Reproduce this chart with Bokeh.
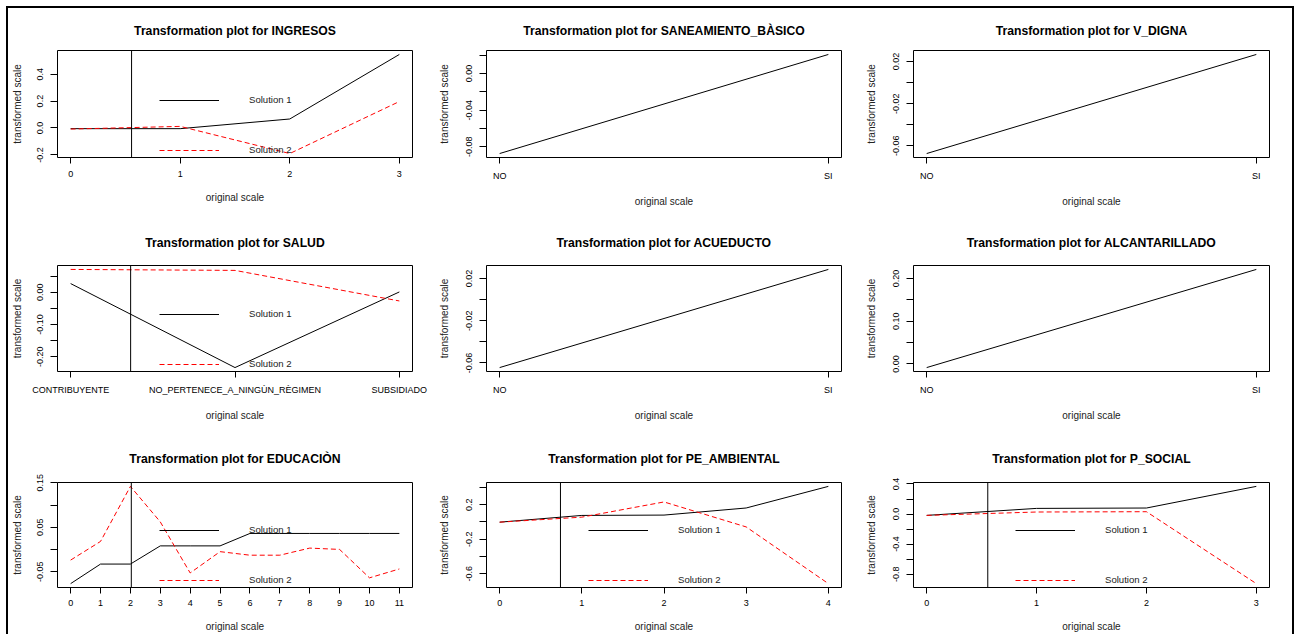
from bokeh.plotting import figure
from bokeh.models import FixedTicker, Span, Legend, LegendItem, Range1d, PrintfTickFormatter
from bokeh.layouts import column, row
from bokeh.embed import file_html
from bokeh.resources import INLINE

FONT = "Liberation Sans"

# ---------------- data ----------------
ingresos_x = [0, 1, 2, 3]
ingresos_s1 = [-0.005, -0.005, 0.067, 0.547]
ingresos_s2 = [-0.008, 0.012, -0.190, 0.197]

saneamiento_cats = ["NO", "SI"]
saneamiento_s1 = [-0.0873, 0.0208]

vdigna_cats = ["NO", "SI"]
vdigna_s1 = [-0.0675, 0.0268]

salud_cats = ["CONTRIBUYENTE", "NO_PERTENECE_A_NINGÙN_RÈGIMEN", "SUBSIDIADO"]
salud_s1 = [0.027, -0.234, 0.001]
salud_s2 = [0.071, 0.068, -0.027]

acueducto_cats = ["NO", "SI"]
acueducto_s1 = [-0.0644, 0.0285]

alcantarillado_cats = ["NO", "SI"]
alcantarillado_s1 = [-0.0084, 0.221]

educacion_x = [0, 1, 2, 3, 4, 5, 6, 7, 8, 9, 10, 11]
educacion_s1 = [-0.077, -0.033, -0.033, 0.008, 0.008, 0.008, 0.036, 0.036, 0.036, 0.036, 0.036, 0.036]
educacion_s2 = [-0.024, 0.018, 0.142, 0.062, -0.053, -0.005, -0.013, -0.013, 0.003, 0.000, -0.064, -0.044]

ambiental_x = [0, 1, 2, 3, 4]
ambiental_s1 = [-0.003, 0.075, 0.079, 0.161, 0.411]
ambiental_s2 = [-0.003, 0.055, 0.231, -0.058, -0.714]

social_x = [0, 1, 2, 3]
social_s1 = [-0.018, 0.075, 0.080, 0.368]
social_s2 = [-0.018, 0.027, 0.031, -0.926]

# vertical reference lines (original-scale units)
ingresos_vline = 0.556
salud_vline = 0.365
educacion_vline = 2.03
ambiental_vline = 0.74
social_vline = 0.556

# y ticks: labelled ticks, unlabelled ticks, label format
ingresos_yt = ([-0.2, 0.0, 0.2, 0.4], [], "%.1f")
saneamiento_yt = ([-0.08, -0.04, 0.0], [-0.06, -0.02, 0.02], "%.2f")
vdigna_yt = ([-0.06, -0.02, 0.02], [-0.04, 0.0], "%.2f")
salud_yt = ([-0.2, -0.1, 0.0], [-0.15, -0.05, 0.05], "%.2f")
acueducto_yt = ([-0.06, -0.02, 0.02], [-0.04, 0.0], "%.2f")
alcantarillado_yt = ([0.0, 0.1, 0.2], [0.05, 0.15], "%.2f")
educacion_yt = ([-0.05, 0.05, 0.15], [0.0, 0.10], "%.2f")
ambiental_yt = ([-0.6, -0.2, 0.2], [-0.4, 0.0, 0.4], "%.1f")
social_yt = ([-0.8, -0.4, 0.0, 0.4], [-0.6, -0.2, 0.2], "%.1f")

# ---------------- layout geometry ----------------
COLS = [(49, 355, 18), (56, 355, 19), (53, 356, 23)]
ROWS = [(42, 107, 61), (47, 106, 62), (49, 105, 47)]
TITLE_STANDOFF = [26, 31, 33]
YLABEL_STANDOFF = [12, 14, 14]


def make_panel(name, x, cats, s1, s2, yt, vline, col, rowi):
    bl, fw, br = COLS[col]
    bt, fh, bb = ROWS[rowi]
    allv = list(s1) + (list(s2) if s2 is not None else [])
    ymin, ymax = min(allv), max(allv)
    ypad = 0.04 * (ymax - ymin)
    xmin, xmax = min(x), max(x)
    xpad = 0.04 * (xmax - xmin)
    p = figure(frame_width=fw, frame_height=fh,
               min_border_left=bl, min_border_right=br,
               min_border_top=bt, min_border_bottom=bb,
               x_range=Range1d(xmin - xpad, xmax + xpad),
               y_range=Range1d(ymin - ypad, ymax + ypad),
               output_backend="svg", toolbar_location=None,
               title="Transformation plot for " + name,
               x_axis_label="original scale", y_axis_label="transformed scale")
    p.title.align = "center"
    p.title.text_font = FONT
    p.title.text_font_size = "12.2px"
    p.title.text_font_style = "bold"
    p.title.text_color = "black"
    p.title.standoff = TITLE_STANDOFF[rowi]
    p.xgrid.visible = False
    p.ygrid.visible = False
    p.outline_line_color = "black"
    p.outline_line_width = 1
    p.outline_line_alpha = 1
    p.background_fill_color = "white"
    p.border_fill_color = "white"

    # x axis
    xa = p.xaxis[0]
    xa.ticker = FixedTicker(ticks=list(x))
    if cats is not None:
        xa.major_label_overrides = {i: c for i, c in zip(x, cats)}
    xa.axis_line_color = None
    xa.major_tick_out = 6
    xa.major_tick_in = 0
    xa.major_tick_line_color = "black"
    xa.major_label_standoff = 7 if rowi < 2 else 6
    xa.axis_label_standoff = 12
    # y axis
    ya = p.yaxis[0]
    lab, minor, fmt = yt
    ya.ticker = FixedTicker(ticks=lab, minor_ticks=minor)
    ya.formatter = PrintfTickFormatter(format=fmt)
    ya.axis_line_color = None
    ya.major_tick_out = 7
    ya.major_tick_in = 0
    ya.minor_tick_out = 7
    ya.minor_tick_in = 0
    ya.major_tick_line_color = "black"
    ya.minor_tick_line_color = "black"
    ya.major_label_orientation = "vertical"
    ya.major_label_standoff = 7
    ya.axis_label_standoff = YLABEL_STANDOFF[col]
    for ax in (xa, ya):
        ax.major_label_text_font = FONT
        ax.major_label_text_font_size = "9px"
        ax.major_label_text_color = "black"
        ax.axis_label_text_font = FONT
        ax.axis_label_text_font_size = "10px"
        ax.axis_label_text_font_style = "normal"
        ax.axis_label_text_color = "#222222"

    r1 = p.line(x, s1, line_color="black", line_width=1)
    if s2 is not None:
        r2 = p.line(x, s2, line_color="red", line_width=1, line_dash="5 3")
        legend = Legend(items=[LegendItem(label="Solution 1", renderers=[r1]),
                               LegendItem(label="Solution 2", renderers=[r2])],
                        location=(102, 2), orientation="vertical",
                        glyph_width=60, glyph_height=10, label_height=10,
                        label_standoff=30, spacing=39, padding=0, margin=0,
                        border_line_color=None, background_fill_alpha=0,
                        label_text_font=FONT, label_text_font_size="9.6px",
                        label_text_color="#222222")
        p.add_layout(legend, "center")
    if vline is not None:
        p.add_layout(Span(location=vline, dimension="height",
                          line_color="black", line_width=1))
    return p


p1 = make_panel("INGRESOS", ingresos_x, None, ingresos_s1, ingresos_s2, ingresos_yt, ingresos_vline, 0, 0)
p2 = make_panel("SANEAMIENTO_BÀSICO", [0, 1], saneamiento_cats, saneamiento_s1, None, saneamiento_yt, None, 1, 0)
p3 = make_panel("V_DIGNA", [0, 1], vdigna_cats, vdigna_s1, None, vdigna_yt, None, 2, 0)
p4 = make_panel("SALUD", [0, 1, 2], salud_cats, salud_s1, salud_s2, salud_yt, salud_vline, 0, 1)
p5 = make_panel("ACUEDUCTO", [0, 1], acueducto_cats, acueducto_s1, None, acueducto_yt, None, 1, 1)
p6 = make_panel("ALCANTARILLADO", [0, 1], alcantarillado_cats, alcantarillado_s1, None, alcantarillado_yt, None, 2, 1)
p7 = make_panel("EDUCACIÒN", educacion_x, None, educacion_s1, educacion_s2, educacion_yt, educacion_vline, 0, 2)
p8 = make_panel("PE_AMBIENTAL", ambiental_x, None, ambiental_s1, ambiental_s2, ambiental_yt, ambiental_vline, 1, 2)
p9 = make_panel("P_SOCIAL", social_x, None, social_s1, social_s2, social_yt, social_vline, 2, 2)

layout = column(row(p1, p2, p3), row(p4, p5, p6), row(p7, p8, p9),
                margin=(8, 0, 0, 8),
                styles={"outline": "2px solid black"})

open("out.html", "w").write(file_html(layout, INLINE))
